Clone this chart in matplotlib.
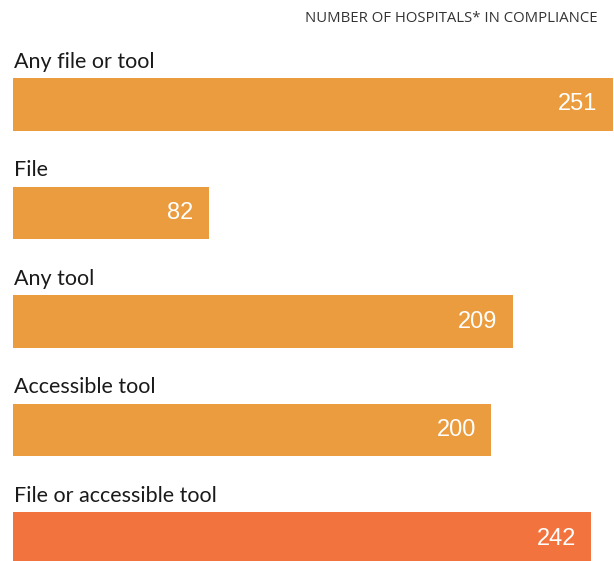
import matplotlib.pyplot as plt

# hospitals in compliance, by kind of price transparency offered
categories = ["Any file or tool", "File", "Any tool", "Accessible tool", "File or accessible tool"]
counts = [251, 82, 209, 200, 242]
colors = ["#EB9C3E", "#EB9C3E", "#EB9C3E", "#EB9C3E", "#F2733D"]

fig = plt.figure(figsize=(6.14, 5.61), dpi=100)
ax = fig.add_axes([13 / 614, 0, 600 / 614, 1])

y = list(range(len(categories)))
ax.barh(y, counts, height=0.48, color=colors)
ax.set_xlim(0, 251)
ax.set_ylim(4.207, -0.963)
ax.axis("off")

for i, (cat, n) in enumerate(zip(categories, counts)):
    ax.annotate(cat, (0, i - 0.24), xytext=(1, 5), textcoords="offset points",
                ha="left", va="bottom", fontsize=15.5, family="Lato", color="#1a1a1a")
    ax.annotate(str(n), (n, i), xytext=(-11, 0), textcoords="offset points",
                ha="right", va="center", fontsize=17, family="Liberation Sans", color="white")

fig.text(598 / 614, 1 - 18 / 561, "NUMBER OF HOSPITALS* IN COMPLIANCE", ha="right", va="center",
         fontsize=10.7, family="Open Sans", color="#333333")

fig.savefig("out.png", dpi=100)
